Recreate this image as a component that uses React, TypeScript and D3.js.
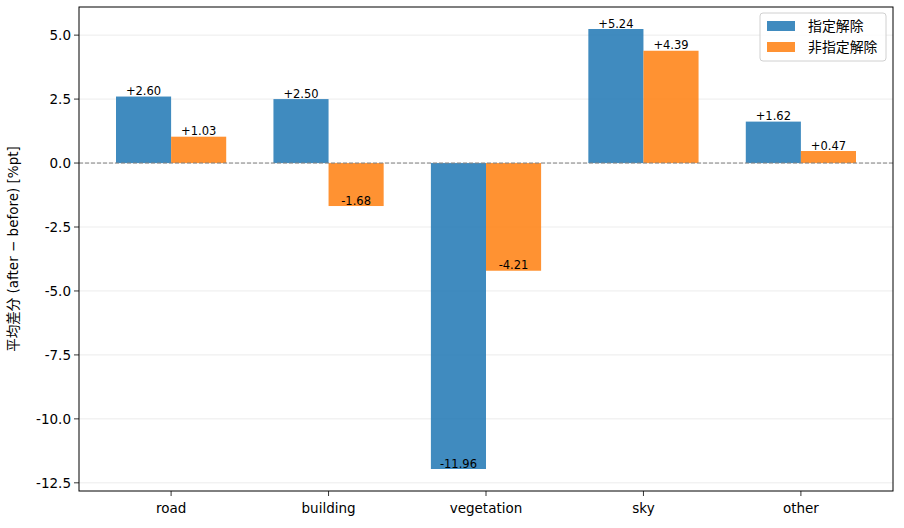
import * as d3 from "d3"

const categories = ["road", "building", "vegetation", "sky", "other"]
const seriesNames = ["指定解除", "非指定解除"]
const designated = [2.6, 2.5, -11.96, 5.24, 1.62]
const nonDesignated = [1.03, -1.68, -4.21, 4.39, 0.47]
const yTicks = [-12.5, -10, -7.5, -5, -2.5, 0, 2.5, 5]
const colors = ["#1f77b4", "#ff7f0e"]

const W = 904
const H = 528
const margin = { top: 7, right: 11, bottom: 37, left: 79 }
const font = "'DejaVu Sans', 'Noto Sans CJK JP', sans-serif"

export default function App() {
  const iw = W - margin.left - margin.right
  const ih = H - margin.top - margin.bottom
  const barW = 0.35

  const x = d3.scaleLinear().domain([-0.585, 4.585]).range([0, iw])
  const y = d3.scaleLinear().domain([-12.82, 6.1]).range([ih, 0])

  const series = [designated, nonDesignated]
  const fmt = (v: number) => (v >= 0 ? "+" : "") + v.toFixed(2)

  return (
    <svg width={W} height={H} style={{ position: "absolute", left: 0, top: 0 }} fontFamily={font}>
      <rect width={W} height={H} fill="#fff" />
      <g transform={`translate(${margin.left},${margin.top})`}>
        {/* grid */}
        {yTicks.map((t) => (
          <line key={t} x1={0} x2={iw} y1={y(t)} y2={y(t)} stroke="#b0b0b0" strokeOpacity={0.3} strokeWidth={0.8} />
        ))}
        {/* bars */}
        {series.map((vals, si) =>
          vals.map((v, i) => {
            const x0 = x(i + (si === 0 ? -barW : 0))
            return (
              <rect
                key={`${si}-${i}`}
                x={x0}
                width={x(barW) - x(0)}
                y={Math.min(y(v), y(0))}
                height={Math.abs(y(v) - y(0))}
                fill={colors[si]}
                fillOpacity={0.85}
              />
            )
          })
        )}
        {/* zero line */}
        <line x1={0} x2={iw} y1={y(0)} y2={y(0)} stroke="#808080" strokeWidth={1} strokeDasharray="4,2" />
        {/* value labels */}
        {series.map((vals, si) =>
          vals.map((v, i) => (
            <text
              key={`l${si}-${i}`}
              x={x(i + (si === 0 ? -barW / 2 : barW / 2))}
              y={y(v) - 1.5}
              textAnchor="middle"
              fontSize={11.5}
              fill="#000"
            >
              {fmt(v)}
            </text>
          ))
        )}
        {/* frame */}
        <rect x={0} y={0} width={iw} height={ih} fill="none" stroke="#000" strokeWidth={1} />
        {/* y axis */}
        {yTicks.map((t) => (
          <g key={`yt${t}`} transform={`translate(0,${y(t)})`}>
            <line x1={-5} x2={0} stroke="#000" strokeWidth={0.8} />
            <text x={-8} dy="0.36em" textAnchor="end" fontSize={13.5}>
              {t.toFixed(1)}
            </text>
          </g>
        ))}
        {/* x axis */}
        {categories.map((c, i) => (
          <g key={c} transform={`translate(${x(i)},${ih})`}>
            <line y1={0} y2={5} stroke="#000" strokeWidth={0.8} />
            <text y={22} textAnchor="middle" fontSize={13.5}>
              {c}
            </text>
          </g>
        ))}
        <text
          transform={`translate(${-61},${ih / 2}) rotate(-90)`}
          textAnchor="middle"
          fontSize={13.5}
        >
          平均差分 (after − before) [%pt]
        </text>
        {/* legend */}
        <g transform={`translate(${iw - 133},6)`}>
          <rect width={126} height={48} rx={3} fill="#fff" fillOpacity={0.8} stroke="#d0d0d0" />
          {seriesNames.map((n, i) => (
            <g key={n} transform={`translate(7,${8 + i * 21})`}>
              <rect width={28} height={10} fill={colors[i]} fillOpacity={0.85} />
              <text x={41} y={5} dy="0.35em" fontSize={13.9}>
                {n}
              </text>
            </g>
          ))}
        </g>
      </g>
    </svg>
  )
}
